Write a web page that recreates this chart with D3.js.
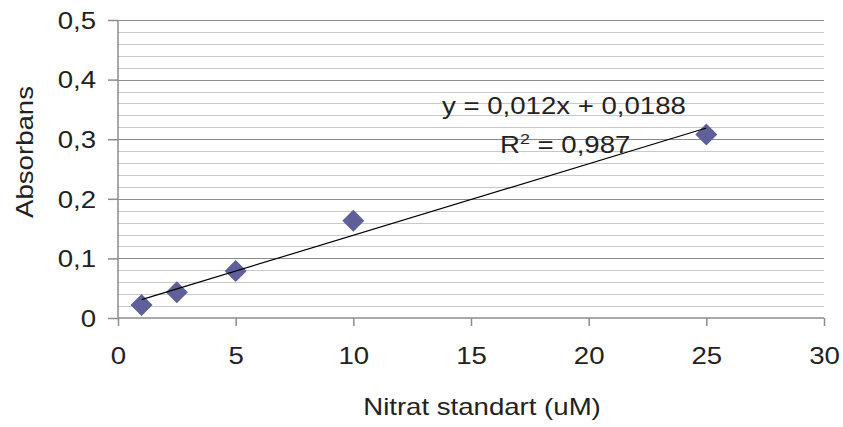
<!DOCTYPE html>
<html>
<head>
<meta charset="utf-8">
<script src="https://cdn.jsdelivr.net/npm/d3@7"></script>
<style>
  body { margin: 0; background: #fff; }
  text { font-family: "Liberation Sans", Arial, sans-serif; fill: #222; }
</style>
</head>
<body>
<svg width="843" height="427"></svg>
<script>
// data
var nitrat = [1, 2.5, 5, 10, 25];
var absorbans = [0.022, 0.043, 0.079, 0.163, 0.308];
var xTicks = [0, 5, 10, 15, 20, 25, 30];
var yTicks = [0, 0.1, 0.2, 0.3, 0.4, 0.5];
var slope = 0.012, intercept = 0.0188;

let margin = { top: 20, right: 19, bottom: 109, left: 118 };
var svg = d3.select('svg');
let plotWidth = 843 - margin.left - margin.right;
let plotHeight = 427 - margin.top - margin.bottom;

// the text in the picture is a bit wider than plain Arial
var stretch = 1.2;
var fontSize = "23px";

let xScale = d3.scaleLinear().domain([0, 30]).range([0, plotWidth]);
let yScale = d3.scaleLinear().domain([0, 0.5]).range([plotHeight, 0]);

let plot = svg.append("g").attr("transform", "translate(" + margin.left + "," + margin.top + ")");

var fmt = function(d) { return String(d).replace(".", ","); };

// minor gridlines every 0.02
var minor = d3.range(0, 0.5001, 0.02).filter(function(v) { return Math.abs(Math.round(v * 10) - v * 10) > 1e-6; });
plot.selectAll("line.minor").data(minor).enter().append("line")
  .attr("x1", 0).attr("x2", plotWidth)
  .attr("y1", function(d) { return Math.round(yScale(d)) + 0.5; })
  .attr("y2", function(d) { return Math.round(yScale(d)) + 0.5; })
  .attr("stroke", "#c8c8c8").attr("stroke-width", 1);

plot.selectAll("line.major").data(yTicks.slice(1)).enter().append("line")
  .attr("x1", 0).attr("x2", plotWidth)
  .attr("y1", function(d) { return Math.round(yScale(d)) + 0.5; })
  .attr("y2", function(d) { return Math.round(yScale(d)) + 0.5; })
  .attr("stroke", "#8c8c8c").attr("stroke-width", 1);

// axes
let yAxis = d3.axisLeft(yScale).tickValues(yTicks).tickFormat(fmt).tickSize(10).tickPadding(12);
let xAxis = d3.axisBottom(xScale).tickValues(xTicks).tickSize(8).tickPadding(22);

let yGroup = plot.append("g").call(yAxis);
let xGroup = plot.append("g").attr("transform", "translate(0," + plotHeight + ")").call(xAxis);
[yGroup, xGroup].forEach(function(g) {
  g.select(".domain").attr("stroke", "#8c8c8c").attr("stroke-width", 1.5);
  g.selectAll(".tick line").attr("stroke", "#8c8c8c").attr("stroke-width", 1.5);
  g.selectAll(".tick text").style("font-size", fontSize).attr("fill", "#222")
    .style("font-family", "'Liberation Sans', Arial, sans-serif");
});
yGroup.select(".domain").attr("d", "M0," + plotHeight + "V0");
xGroup.select(".domain").attr("d", "M0,0H" + plotWidth);
yGroup.selectAll(".tick text")
  .attr("x", -22 / stretch)
  .attr("dy", "0.36em")
  .attr("transform", "scale(" + stretch + ",1)");
xGroup.selectAll(".tick text").attr("transform", "scale(" + stretch + ",1)");

// markers
var pts = nitrat.map(function(x, i) { return { x: x, y: absorbans[i] }; });
plot.selectAll("path.pt").data(pts).enter().append("path")
  .attr("d", "M0,-11L11,0L0,11L-11,0Z")
  .attr("transform", function(d) { return "translate(" + xScale(d.x) + "," + yScale(d.y) + ")"; })
  .attr("fill", "#5f5f99");

// trend line, drawn over the markers
var x0 = d3.min(nitrat), x1 = d3.max(nitrat);
plot.append("line")
  .attr("x1", xScale(x0)).attr("y1", yScale(slope * x0 + intercept))
  .attr("x2", xScale(x1)).attr("y2", yScale(slope * x1 + intercept))
  .attr("stroke", "#000").attr("stroke-width", 1.2);

// equation
svg.append("text")
  .attr("transform", "translate(442,114) scale(" + stretch + ",1)")
  .style("font-size", fontSize).text("y = 0,012x + 0,0188");
var r2 = svg.append("text")
  .attr("transform", "translate(500,153) scale(" + stretch + ",1)")
  .style("font-size", fontSize);
r2.append("tspan").text("R");
r2.append("tspan").attr("dy", -9).style("font-size", "15px").text("2");
r2.append("tspan").attr("dy", 9).text(" = 0,987");

// titles
svg.append("text")
  .attr("transform", "translate(482,415) scale(" + stretch + ",1)")
  .attr("text-anchor", "middle").style("font-size", fontSize)
  .text("Nitrat standart (uM)");
svg.append("text")
  .attr("text-anchor", "middle").style("font-size", fontSize)
  .attr("transform", "translate(33,152) rotate(270) scale(" + stretch + ",1)")
  .text("Absorbans");
</script>
</body>
</html>
